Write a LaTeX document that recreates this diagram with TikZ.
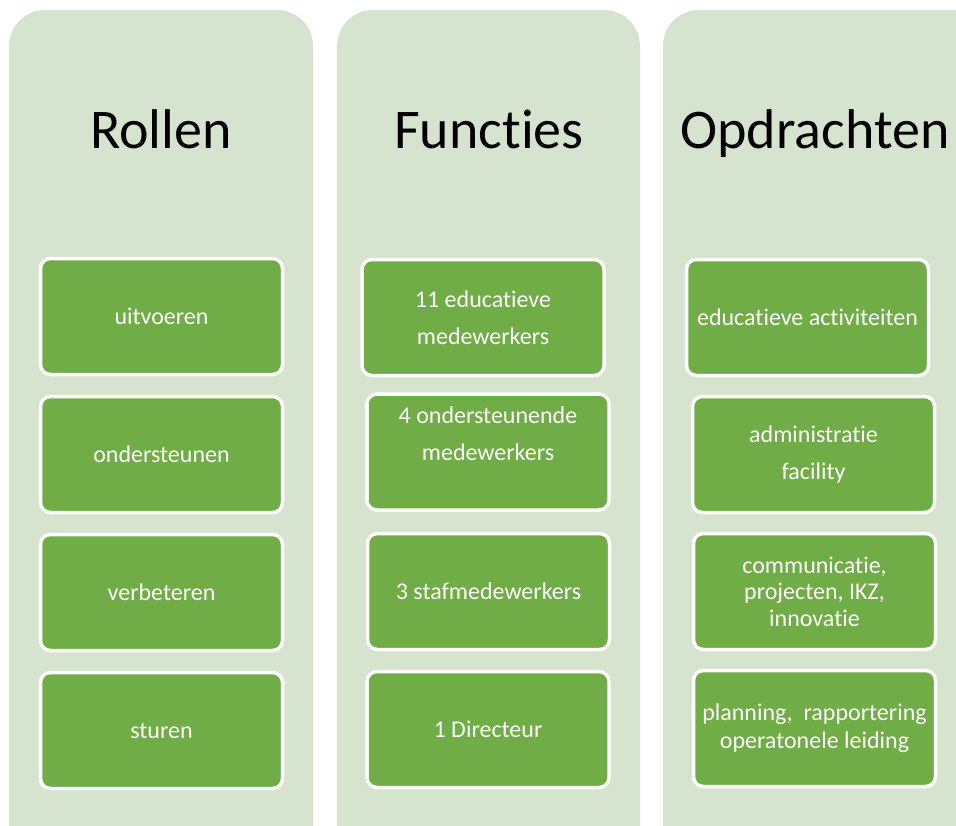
\documentclass[tikz,border=0pt]{standalone}
\usepackage{fontspec}
\setmainfont{Carlito}[Ligatures=NoCommon]
\definecolor{panelgreen}{HTML}{D6E3CF}
\definecolor{boxgreen}{HTML}{70AD47}
\begin{document}
\begin{tikzpicture}[x=1pt,y=-1pt,
  panel/.style={fill=panelgreen,rounded corners=36pt},
  gbox/.style={draw=white,line width=3.5pt,fill=boxgreen,rounded corners=10pt,
    minimum width=242pt,minimum height=116pt,inner sep=0pt,
    text=white,font=\fontsize{24}{37}\selectfont,align=center},
  tight/.style={font=\fontsize{24}{26.5}\selectfont},
  mid/.style={font=\fontsize{24}{28}\selectfont},
  btext/.style={text=white,font=\fontsize{24}{37}\selectfont,align=center,inner sep=0pt},
  head/.style={font=\fontsize{56}{60}\selectfont,anchor=base,inner sep=0pt}]
\useasboundingbox (0,0) rectangle (956,825);
\clip (0,0) rectangle (956,825);
\fill[white] (0,0) rectangle (956,825);
% panels
\fill[panel] (9,10) rectangle (313,880);
\fill[panel] (337,10) rectangle (640,880);
\fill[panel] (663,10) rectangle (990,880);
% headings
\node[head] (hr) at (161,148) {Rollen};
\node[head] (hf) at (489,148) {Functies};
\node[head] (ho) at (815,148) {Opdrachten};
% Rollen
\node[gbox] (r1) at (161.5,316.5) {uitvoeren};
\node[gbox] (r2) at (161.5,454.5) {ondersteunen};
\node[gbox] (r3) at (161.5,592.5) {verbeteren};
\node[gbox] (r4) at (161.5,730.5) {sturen};
% Functies
\node[gbox] (f1) at (483,317.5) {11 educatieve\\medewerkers};
\node[gbox] (f2) at (488,452) {};
\node[btext] (f2t) at (488,433.5) {4 ondersteunende\\medewerkers};
\node[gbox] (f3) at (488.5,591.5) {3 stafmedewerkers};
\node[gbox] (f4) at (488,729.5) {1 Directeur};
% Opdrachten
\node[gbox] (o1) at (807.5,317.5) {educatieve activiteiten};
\node[gbox] (o2) at (813.5,454.5) {administratie\\facility};
\node[gbox,tight] (o3) at (814.5,591.5) {communicatie,\\projecten, IKZ,\\innovatie};
\node[gbox,mid] (o4) at (814.5,728.5) {planning,~ rapportering\\operatonele leiding};
\end{tikzpicture}
\end{document}
